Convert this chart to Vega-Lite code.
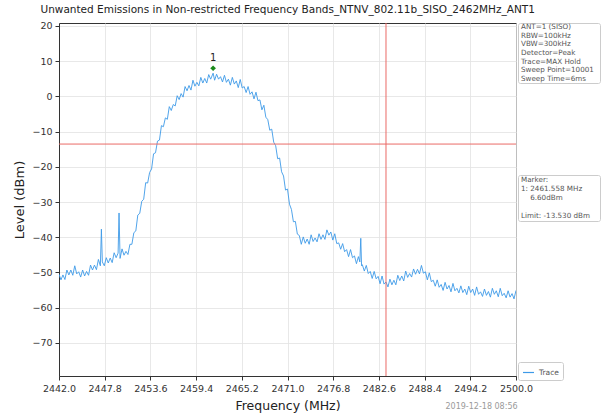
{
  "$schema": "https://vega.github.io/schema/vega-lite/v6.json",
  "padding": {"left": 13, "top": 4, "right": 0, "bottom": 0},
  "background": "white",
  "title": {"text": "Unwanted Emissions in Non-restricted Frequency Bands_NTNV_802.11b_SISO_2462MHz_ANT1", "anchor": "start", "fontSize": 10.5, "fontWeight": "normal", "color": "#222", "dx": 27, "offset": 5, "font": "DejaVu Sans"},
  "config": {
    "font": "DejaVu Sans",
    "view": {"stroke": "#333", "strokeWidth": 1},
    "axis": {"labelFont": "DejaVu Sans", "titleFont": "DejaVu Sans", "labelColor": "#333", "titleColor": "#222", "titleFontWeight": "normal", "domainColor": "#333", "tickColor": "#333", "tickSize": 4, "gridColor": "#e2e2e2", "gridWidth": 0.8, "labelFontSize": 9.5, "labelOverlap": false}
  },
  "datasets": {
    "trace": [
      {"f":2442.00,"v":-50.5},{"f":2442.25,"v":-52.1},{"f":2442.50,"v":-50.7},{"f":2442.75,"v":-52.0},{"f":2443.00,"v":-49.3},{"f":2443.25,"v":-50.7},{"f":2443.50,"v":-49.3},{"f":2443.75,"v":-50.8},{"f":2444.00,"v":-48.1},{"f":2444.25,"v":-50.4},{"f":2444.50,"v":-49.8},{"f":2444.75,"v":-51.3},{"f":2445.00,"v":-49.3},{"f":2445.25,"v":-51.0},{"f":2445.50,"v":-49.7},{"f":2445.75,"v":-50.8},{"f":2446.00,"v":-47.9},{"f":2446.25,"v":-49.3},{"f":2446.50,"v":-47.9},{"f":2446.75,"v":-49.2},{"f":2447.00,"v":-46.3},{"f":2447.25,"v":-48.1},{"f":2447.38,"v":-37.7},{"f":2447.50,"v":-47.0},{"f":2447.75,"v":-48.1},{"f":2448.00,"v":-45.8},{"f":2448.25,"v":-47.3},{"f":2448.50,"v":-45.9},{"f":2448.75,"v":-47.2},{"f":2449.00,"v":-44.4},{"f":2449.25,"v":-45.8},{"f":2449.50,"v":-44.5},{"f":2449.62,"v":-33.1},{"f":2449.75,"v":-46.0},{"f":2450.00,"v":-43.3},{"f":2450.25,"v":-45.1},{"f":2450.50,"v":-44.0},{"f":2450.75,"v":-44.9},{"f":2451.00,"v":-42.0},{"f":2451.25,"v":-42.0},{"f":2451.50,"v":-38.7},{"f":2451.75,"v":-38.2},{"f":2452.00,"v":-33.7},{"f":2452.25,"v":-33.2},{"f":2452.50,"v":-29.8},{"f":2452.75,"v":-29.2},{"f":2453.00,"v":-24.5},{"f":2453.25,"v":-24.6},{"f":2453.50,"v":-21.6},{"f":2453.75,"v":-20.6},{"f":2454.00,"v":-16.3},{"f":2454.25,"v":-16.0},{"f":2454.50,"v":-12.7},{"f":2454.75,"v":-12.4},{"f":2455.00,"v":-8.3},{"f":2455.25,"v":-8.6},{"f":2455.50,"v":-6.1},{"f":2455.75,"v":-6.5},{"f":2456.00,"v":-2.9},{"f":2456.25,"v":-4.0},{"f":2456.50,"v":-2.3},{"f":2456.75,"v":-2.7},{"f":2457.00,"v":0.2},{"f":2457.25,"v":-0.9},{"f":2457.50,"v":0.8},{"f":2457.75,"v":-0.2},{"f":2458.00,"v":2.8},{"f":2458.25,"v":1.6},{"f":2458.50,"v":3.1},{"f":2458.75,"v":1.8},{"f":2459.00,"v":4.6},{"f":2459.25,"v":2.9},{"f":2459.50,"v":4.0},{"f":2459.75,"v":3.0},{"f":2460.00,"v":5.4},{"f":2460.25,"v":3.8},{"f":2460.50,"v":5.1},{"f":2460.75,"v":3.8},{"f":2461.00,"v":6.2},{"f":2461.25,"v":4.9},{"f":2461.56,"v":6.6},{"f":2461.75,"v":4.6},{"f":2462.00,"v":6.3},{"f":2462.25,"v":4.9},{"f":2462.50,"v":5.6},{"f":2462.75,"v":4.1},{"f":2463.00,"v":6.0},{"f":2463.25,"v":4.0},{"f":2463.50,"v":4.9},{"f":2463.75,"v":3.2},{"f":2464.00,"v":5.4},{"f":2464.25,"v":3.5},{"f":2464.50,"v":4.4},{"f":2464.75,"v":2.5},{"f":2465.00,"v":4.8},{"f":2465.25,"v":2.4},{"f":2465.50,"v":2.8},{"f":2465.75,"v":1.1},{"f":2466.00,"v":2.8},{"f":2466.25,"v":0.6},{"f":2466.50,"v":1.3},{"f":2466.75,"v":-0.7},{"f":2467.00,"v":1.2},{"f":2467.25,"v":-1.2},{"f":2467.50,"v":-1.0},{"f":2467.75,"v":-3.8},{"f":2468.00,"v":-2.5},{"f":2468.25,"v":-5.9},{"f":2468.50,"v":-6.6},{"f":2468.75,"v":-9.6},{"f":2469.00,"v":-9.3},{"f":2469.25,"v":-13.0},{"f":2469.50,"v":-14.0},{"f":2469.75,"v":-17.7},{"f":2470.00,"v":-17.5},{"f":2470.25,"v":-21.4},{"f":2470.50,"v":-22.6},{"f":2470.75,"v":-26.6},{"f":2471.00,"v":-26.3},{"f":2471.25,"v":-30.6},{"f":2471.50,"v":-32.1},{"f":2471.75,"v":-35.6},{"f":2472.00,"v":-35.5},{"f":2472.25,"v":-39.1},{"f":2472.50,"v":-39.5},{"f":2472.75,"v":-42.0},{"f":2473.00,"v":-39.9},{"f":2473.25,"v":-41.7},{"f":2473.50,"v":-40.5},{"f":2473.75,"v":-42.0},{"f":2474.00,"v":-39.3},{"f":2474.25,"v":-41.2},{"f":2474.50,"v":-40.2},{"f":2474.75,"v":-41.3},{"f":2475.00,"v":-39.0},{"f":2475.25,"v":-40.6},{"f":2475.50,"v":-39.3},{"f":2475.75,"v":-40.6},{"f":2476.00,"v":-37.9},{"f":2476.25,"v":-39.4},{"f":2476.50,"v":-38.5},{"f":2476.75,"v":-40.8},{"f":2477.00,"v":-39.0},{"f":2477.25,"v":-41.8},{"f":2477.50,"v":-41.6},{"f":2477.75,"v":-43.4},{"f":2478.00,"v":-41.8},{"f":2478.25,"v":-44.1},{"f":2478.50,"v":-43.5},{"f":2478.75,"v":-45.5},{"f":2479.00,"v":-43.5},{"f":2479.25,"v":-45.8},{"f":2479.50,"v":-45.3},{"f":2479.75,"v":-47.5},{"f":2480.00,"v":-45.5},{"f":2480.18,"v":-47.0},{"f":2480.30,"v":-40.3},{"f":2480.40,"v":-48.1},{"f":2480.50,"v":-47.8},{"f":2480.75,"v":-49.6},{"f":2481.00,"v":-48.0},{"f":2481.25,"v":-50.3},{"f":2481.50,"v":-49.7},{"f":2481.75,"v":-51.7},{"f":2482.00,"v":-49.7},{"f":2482.25,"v":-51.8},{"f":2482.50,"v":-51.1},{"f":2482.75,"v":-53.2},{"f":2483.00,"v":-51.0},{"f":2483.25,"v":-53.3},{"f":2483.50,"v":-52.7},{"f":2483.75,"v":-54.1},{"f":2484.00,"v":-51.9},{"f":2484.25,"v":-53.5},{"f":2484.50,"v":-52.2},{"f":2484.75,"v":-53.5},{"f":2485.00,"v":-50.8},{"f":2485.25,"v":-52.3},{"f":2485.50,"v":-51.0},{"f":2485.75,"v":-52.4},{"f":2486.00,"v":-49.6},{"f":2486.25,"v":-51.4},{"f":2486.50,"v":-50.3},{"f":2486.75,"v":-51.3},{"f":2487.00,"v":-49.0},{"f":2487.25,"v":-50.5},{"f":2487.50,"v":-49.1},{"f":2487.75,"v":-50.4},{"f":2488.00,"v":-48.0},{"f":2488.25,"v":-50.2},{"f":2488.50,"v":-49.8},{"f":2488.75,"v":-52.1},{"f":2489.00,"v":-50.1},{"f":2489.25,"v":-52.6},{"f":2489.50,"v":-52.2},{"f":2489.75,"v":-53.9},{"f":2490.00,"v":-52.1},{"f":2490.25,"v":-54.2},{"f":2490.50,"v":-53.4},{"f":2490.75,"v":-55.1},{"f":2491.00,"v":-52.8},{"f":2491.25,"v":-54.7},{"f":2491.50,"v":-53.7},{"f":2491.75,"v":-55.5},{"f":2492.00,"v":-53.1},{"f":2492.25,"v":-55.2},{"f":2492.50,"v":-54.5},{"f":2492.75,"v":-55.8},{"f":2493.00,"v":-53.8},{"f":2493.25,"v":-55.7},{"f":2493.50,"v":-54.7},{"f":2493.75,"v":-56.3},{"f":2494.00,"v":-53.9},{"f":2494.25,"v":-55.7},{"f":2494.50,"v":-54.7},{"f":2494.75,"v":-56.5},{"f":2495.00,"v":-54.1},{"f":2495.25,"v":-56.2},{"f":2495.50,"v":-55.5},{"f":2495.75,"v":-56.8},{"f":2496.00,"v":-54.7},{"f":2496.25,"v":-56.5},{"f":2496.50,"v":-55.4},{"f":2496.75,"v":-57.0},{"f":2497.00,"v":-54.5},{"f":2497.25,"v":-56.2},{"f":2497.50,"v":-55.2},{"f":2497.75,"v":-56.9},{"f":2498.00,"v":-54.5},{"f":2498.25,"v":-56.6},{"f":2498.50,"v":-55.9},{"f":2498.75,"v":-57.2},{"f":2499.00,"v":-55.2},{"f":2499.25,"v":-57.0},{"f":2499.50,"v":-56.0},{"f":2499.75,"v":-57.5},{"f":2500.00,"v":-55.1}
    ],
    "info1": [
      {"i": 0, "line": "ANT=1 (SISO)"},
      {"i": 1, "line": "RBW=100kHz"},
      {"i": 2, "line": "VBW=300kHz"},
      {"i": 3, "line": "Detector=Peak"},
      {"i": 4, "line": "Trace=MAX Hold"},
      {"i": 5, "line": "Sweep Point=10001"},
      {"i": 6, "line": "Sweep Time=6ms"}
    ],
    "info2": [
      {"i": 0, "line": "Marker:"},
      {"i": 1, "line": "1: 2461.558 MHz"},
      {"i": 2, "line": "\u200b\u00a0\u00a0\u00a0\u00a06.60dBm"},
      {"i": 3, "line": ""},
      {"i": 4, "line": "Limit: -13.530 dBm"}
    ]
  },
  "hconcat": [
    {
      "width": 457,
      "height": 353,
      "encoding": {
        "x": {"field": "f", "type": "quantitative", "scale": {"domain": [2442, 2500], "nice": false, "zero": false},
          "axis": {"values": [2442, 2447.8, 2453.6, 2459.4, 2465.2, 2471, 2476.8, 2482.6, 2488.4, 2494.2, 2500], "format": ".1f", "title": "Frequency (MHz)", "titleFontSize": 12.5, "titlePadding": 7, "labelPadding": 3, "labelFlush": false, "labelOverlap": false}},
        "y": {"field": "v", "type": "quantitative", "scale": {"domain": [-79.4, 20.85], "nice": false, "zero": false},
          "axis": {"values": [20, 10, 0, -10, -20, -30, -40, -50, -60, -70], "title": "Level (dBm)", "titleFontSize": 13, "titlePadding": 5, "labelPadding": 3, "labelOverlap": false, "labelBound": false}}
      },
      "layer": [
        {
          "data": {"name": "trace"},
          "mark": {"type": "line", "strokeWidth": 0.9, "clip": true},
          "encoding": {
            "color": {"datum": "Trace", "scale": {"range": ["#3d9ae8"]},
              "legend": {"title": null, "orient": "none", "legendX": 459, "legendY": 339, "labelFontSize": 7.5, "labelColor": "#555", "symbolType": "stroke", "symbolSize": 120, "symbolStrokeWidth": 1.2, "strokeColor": "#cccccc", "fillColor": "white", "padding": 4, "cornerRadius": 2}}
          }
        },
        {
          "data": {"values": [{"v": -13.53}]},
          "mark": {"type": "rule", "color": "#ea6a66", "strokeWidth": 1},
          "encoding": {"x": null}
        },
        {
          "data": {"values": [{"f": 2483.5}]},
          "mark": {"type": "rule", "color": "#ea6a66", "strokeWidth": 1},
          "encoding": {"y": null}
        },
        {
          "data": {"values": [{"f": 2461.558, "v": 8.0, "label": "1"}]},
          "mark": {"type": "point", "shape": "diamond", "filled": true, "color": "#1b8a1b", "size": 32, "opacity": 1}
        },
        {
          "data": {"values": [{"f": 2461.558, "v": 8.0, "label": "1"}]},
          "mark": {"type": "text", "dy": -10, "fontSize": 10, "color": "#222"},
          "encoding": {"text": {"field": "label"}}
        },
        {
          "data": {"values": [{"f": 2500.2, "v": -88.2, "stamp": "2019-12-18 08:56"}]},
          "mark": {"type": "text", "align": "right", "baseline": "middle", "fontSize": 8, "color": "#9a9a9a"},
          "encoding": {"text": {"field": "stamp"}}
        }
      ]
    },
    {
      "vconcat": [
        {
          "width": 82,
          "height": 60,
          "view": {"stroke": "#cccccc", "cornerRadius": 2},
          "data": {"name": "info1"},
          "mark": {"type": "text", "align": "left", "baseline": "middle", "fontSize": 7.2, "color": "#555"},
          "encoding": {
            "y": {"field": "i", "type": "ordinal", "axis": null},
            "x": {"value": 3},
            "text": {"field": "line"}
          }
        },
        {
          "width": 82,
          "height": 46,
          "view": {"stroke": "#cccccc", "cornerRadius": 2},
          "data": {"name": "info2"},
          "mark": {"type": "text", "align": "left", "baseline": "middle", "fontSize": 7.2, "color": "#555"},
          "encoding": {
            "y": {"field": "i", "type": "ordinal", "axis": null},
            "x": {"value": 3},
            "text": {"field": "line"}
          }
        }
      ],
      "spacing": 92,
      "bounds": "flush"
    }
  ],
  "spacing": 2,
  "bounds": "flush"
}
